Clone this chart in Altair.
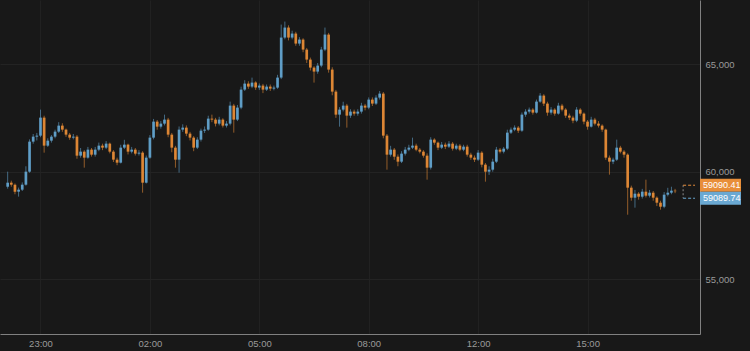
import altair as alt
import pandas as pd

opens = [59300, 59488, 59395, 59070, 59163, 59395, 60000, 61395, 61627, 61674,
 62511, 61209, 61441, 61627, 61860, 62139, 61953, 61720, 61581, 61627,
 60744, 60930, 60651, 61023, 60790, 61023, 61209, 61116, 61302, 60930,
 60558, 60418, 61116, 61255, 60930, 61023, 60837, 60883, 59488, 60651,
 61581, 62325, 62092, 62232, 62418, 61720, 61116, 60558, 61953, 62046,
 61767, 61581, 61116, 61488, 61906, 61953, 62464, 62418, 62232, 62418,
 62139, 62232, 63069, 62418, 62976, 63813, 64092, 63952, 64138, 63906,
 63999, 63813, 63952, 63859, 63906, 64371, 66231, 66696, 66231, 66417,
 65952, 66138, 65673, 65208, 64836, 64650, 64929, 65673, 66370, 64743,
 63720, 62650, 62883, 63069, 62604, 62790, 62697, 62790, 63069, 62976,
 63348, 63162, 63441, 63627, 61674, 60790, 61023, 60697, 60465, 60837,
 61023, 61116, 61209, 61023, 60930, 60744, 60186, 61488, 61348, 61116,
 61255, 61162, 61302, 61069, 61209, 61023, 61162, 60790, 60651, 60558,
 60883, 60325, 60000, 60093, 60465, 61023, 60930, 61069, 61813, 61953,
 62046, 61906, 62650, 62790, 62883, 62743, 63255, 63534, 63162, 62743,
 62883, 62697, 63069, 62883, 62604, 62511, 62371, 62883, 62697, 62325,
 62092, 62418, 62232, 62139, 61953, 60651, 60465, 60558, 61116, 60930,
 60790, 59256, 58791, 58977, 58837, 59070, 58884, 59023, 58791, 58558,
 58372, 58930, 59023, 59116]

highs = [60000, 59580, 59450, 59260, 59500, 60250, 61500, 61750, 61800, 62883,
 62600, 61550, 61700, 61950, 62300, 62250, 62000, 61800, 61750, 61700,
 61100, 61000, 61150, 61100, 61150, 61350, 61300, 61420, 61350, 61000,
 60650, 61250, 61480, 61300, 61150, 61100, 61000, 60950, 60750, 61700,
 62450, 62400, 62350, 62650, 62500, 61800, 61200, 62100, 62200, 62150,
 61850, 61650, 61600, 62000, 62100, 62600, 62650, 62500, 62550, 62480,
 62350, 63255, 63150, 63100, 63950, 64250, 64200, 64370, 64200, 64100,
 64080, 64050, 64050, 64000, 64500, 66835, 66975, 66800, 66550, 66500,
 66250, 66200, 65750, 65300, 64900, 65050, 65800, 66696, 66450, 64850,
 63800, 63000, 63250, 63150, 62900, 62880, 62900, 63200, 63150, 63450,
 63450, 63550, 63750, 63700, 61750, 61200, 61100, 60800, 60950, 61150,
 61250, 61581, 61300, 61100, 61000, 60850, 61600, 61550, 61400, 61380,
 61350, 61420, 61380, 61300, 61280, 61250, 61250, 60880, 60750, 61000,
 60950, 60400, 60250, 60600, 61150, 61100, 61150, 61950, 62050, 62150,
 62120, 62750, 62900, 62980, 62950, 63350, 63650, 63600, 63250, 63000,
 62950, 63200, 63150, 62950, 62700, 62600, 63000, 62950, 62750, 62400,
 62550, 62500, 62350, 62200, 62000, 60750, 60650, 61488, 61200, 61000,
 60850, 59350, 59150, 59050, 59200, 59628, 59150, 59100, 58850, 58650,
 59050, 59250, 59300, 59200]

lows = [59210, 59300, 58950, 58840, 59100, 59350, 59950, 61300, 61450, 61600,
 60883, 61150, 61350, 61550, 61800, 61850, 61620, 61480, 61500, 60600,
 60650, 60186, 60600, 60700, 60700, 60950, 61000, 61050, 60850, 60450,
 60300, 60380, 61050, 60800, 60850, 60750, 60750, 59023, 59450, 60600,
 61500, 61950, 62000, 62150, 61600, 60900, 60186, 59953, 61850, 61650,
 61450, 60950, 61050, 61400, 61800, 61900, 62300, 62100, 62150, 62050,
 62050, 62150, 61813, 62350, 62900, 63750, 63850, 63880, 63800, 63800,
 63650, 63750, 63750, 63780, 63850, 64300, 66150, 66100, 66150, 65850,
 65850, 65550, 65050, 64700, 64138, 64550, 64850, 65600, 64600, 63550,
 62500, 62092, 62800, 62046, 62500, 62600, 62600, 62700, 62850, 62900,
 63050, 63100, 63350, 61550, 60093, 60700, 60550, 60250, 60400, 60750,
 60950, 61050, 60950, 60850, 60650, 59628, 60100, 61250, 61000, 61050,
 61050, 61100, 60980, 61000, 60950, 60950, 60700, 60550, 60450, 60500,
 60200, 59535, 59850, 60000, 60400, 60850, 60850, 61000, 61750, 61880,
 61800, 61850, 62550, 62700, 62650, 62700, 63200, 63050, 62600, 62650,
 62600, 62650, 62800, 62500, 62400, 62250, 62300, 62600, 62200, 61950,
 62050, 62150, 62050, 61850, 60550, 59860, 60350, 60500, 60850, 60650,
 58000, 58650, 58326, 58700, 58750, 58800, 58800, 58650, 58400, 58233,
 58300, 58850, 58950, 59000]

closes = [59488, 59395, 59070, 59163, 59395, 60000, 61395, 61627, 61674, 62511,
 61209, 61441, 61627, 61860, 62139, 61953, 61720, 61581, 61627, 60744,
 60930, 60651, 61023, 60790, 61023, 61209, 61116, 61302, 60930, 60558,
 60418, 61116, 61255, 60930, 61023, 60837, 60883, 59488, 60651, 61581,
 62325, 62092, 62232, 62418, 61720, 61116, 60558, 61953, 62046, 61767,
 61581, 61116, 61488, 61906, 61953, 62464, 62418, 62232, 62418, 62139,
 62232, 63069, 62418, 62976, 63813, 64092, 63952, 64138, 63906, 63999,
 63813, 63952, 63859, 63906, 64371, 66231, 66696, 66231, 66417, 65952,
 66138, 65673, 65208, 64836, 64650, 64929, 65673, 66370, 64743, 63720,
 62650, 62883, 63069, 62604, 62790, 62697, 62790, 63069, 62976, 63348,
 63162, 63441, 63627, 61674, 60790, 61023, 60697, 60465, 60837, 61023,
 61116, 61209, 61023, 60930, 60744, 60186, 61488, 61348, 61116, 61255,
 61162, 61302, 61069, 61209, 61023, 61162, 60790, 60651, 60558, 60883,
 60325, 60000, 60093, 60465, 61023, 60930, 61069, 61813, 61953, 62046,
 61906, 62650, 62790, 62883, 62743, 63255, 63534, 63162, 62743, 62883,
 62697, 63069, 62883, 62604, 62511, 62371, 62883, 62697, 62325, 62092,
 62418, 62232, 62139, 61953, 60651, 60465, 60558, 61116, 60930, 60790,
 59256, 58791, 58977, 58837, 59070, 58884, 59023, 58791, 58558, 58372,
 58930, 59023, 59116, 59090]

n = len(closes)
assert len(opens) == n and len(highs) == n and len(lows) == n, (len(opens), len(highs), len(lows), n)

# candle time: hours relative to 23:00, one candle every 6 minutes starting 22:06
hours = [round(-0.9 + 0.1 * i, 2) for i in range(n)]

tick_hours = [0, 3, 6, 9, 12, 15]
tick_labels = ["23:00", "02:00", "05:00", "08:00", "12:00", "15:00"]
y_ticks = [55000, 60000, 65000]
ask_price = 59090.41
bid_price = 59089.74
ask_label = "59090.41"
bid_label = "59089.74"

UP = "#62a2cc"
DOWN = "#e48a36"
BG = "#181818"
FONT = "Liberation Sans"

df = pd.DataFrame({"t": hours, "open": opens, "high": highs, "low": lows, "close": closes})

label_expr = "''"
for v, lab in reversed(list(zip(tick_hours, tick_labels))):
    label_expr = f"datum.value == {v} ? '{lab}' : ({label_expr})"

x_scale = alt.Scale(domain=[-0.973, 17.946], nice=False, zero=False)
y_scale = alt.Scale(domain=[52456, 67977], nice=False, zero=False)

x_axis = alt.Axis(values=tick_hours, labelExpr=label_expr, title=None, ticks=False,
                  domainColor="#808080", domainWidth=1, grid=True, gridColor="#212121",
                  labelColor="#9a9a9a", labelFont=FONT, labelFontSize=9.5, labelPadding=4)
y_axis = alt.Axis(orient="right", values=y_ticks, format=",d", title=None, ticks=False,
                  domainColor="#808080", domainWidth=1, grid=True, gridColor="#232323",
                  labelColor="#9a9a9a", labelFont=FONT, labelFontSize=9.5, labelPadding=5)

color = alt.condition("datum.open <= datum.close", alt.value(UP), alt.value(DOWN))

base = alt.Chart(df)
wicks = base.mark_rule(strokeWidth=1, opacity=0.6).encode(
    x=alt.X("t:Q", scale=x_scale, axis=x_axis),
    y=alt.Y("low:Q", scale=y_scale, axis=y_axis),
    y2="high:Q",
    color=color,
)
bodies = base.mark_bar(size=2.7, opacity=0.95).encode(
    x=alt.X("t:Q", scale=x_scale, axis=x_axis),
    y=alt.Y("open:Q", scale=y_scale, axis=y_axis),
    y2="close:Q",
    color=color,
)

tags = pd.DataFrame({"price": [ask_price, bid_price], "label": [ask_label, bid_label]})
ask_df = tags.iloc[[0]]
bid_df = tags.iloc[[1]]

def tag_layers(d, col, off):
    box = alt.Chart(d).mark_rule(strokeWidth=13, color=col, yOffset=off, strokeCap="butt").encode(
        x=alt.value(700), x2=alt.value(741),
        y=alt.Y("price:Q", scale=y_scale, axis=y_axis))
    txt = alt.Chart(d).mark_text(align="left", baseline="middle", color="#ffffff",
                                 font=FONT, fontSize=9, dy=off).encode(
        x=alt.value(703),
        y=alt.Y("price:Q", scale=y_scale, axis=y_axis),
        text="label:N")
    dash = alt.Chart(d).mark_rule(strokeDash=[3, 2], color=col, yOffset=off, strokeWidth=1).encode(
        x=alt.X("t0:Q", scale=x_scale, axis=x_axis), x2="t1:Q",
        y=alt.Y("price:Q", scale=y_scale, axis=y_axis)).transform_calculate(t0="17.62", t1="17.946")
    return [dash, box, txt]

vert = alt.Chart(ask_df).mark_rule(strokeDash=[2, 2], color="#8a8a8a", yOffset=-6, y2Offset=7).encode(
    x=alt.X("t0:Q", scale=x_scale, axis=x_axis),
    y=alt.Y("price:Q", scale=y_scale, axis=y_axis),
    y2="price:Q").transform_calculate(t0="17.62")

chart = alt.layer(wicks, bodies, vert, *tag_layers(ask_df, "#e88e3a", -6),
                  *tag_layers(bid_df, "#6aa8d2", 7)).properties(
    width=700, height=334,
    autosize=alt.AutoSizeParams(type="none"),
    padding={"left": 0, "top": 0, "right": 50, "bottom": 17},
    background=BG,
).configure_view(stroke=None, fill=BG)

chart.save("out.html", embed_options={"renderer": "svg", "actions": False})
